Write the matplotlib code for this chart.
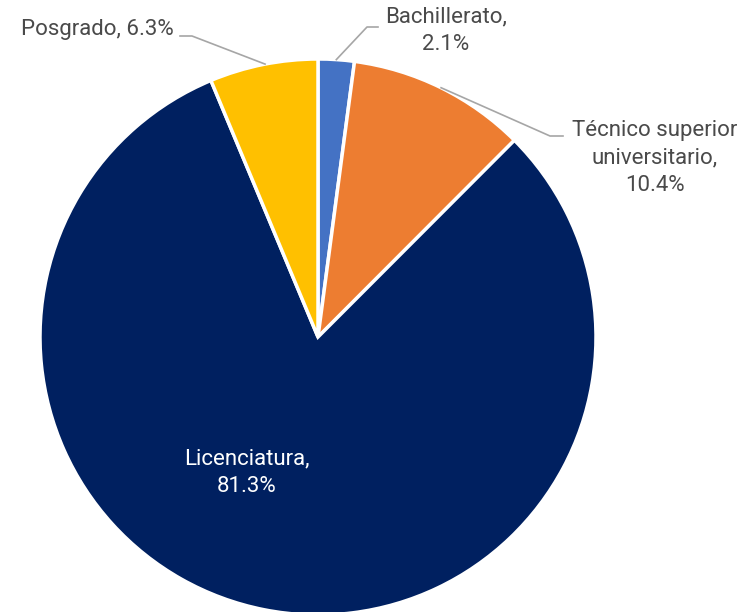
import numpy as np
import matplotlib
matplotlib.use("Agg")
import matplotlib.pyplot as plt

categories = ["Bachillerato", "Técnico superior universitario", "Licenciatura", "Posgrado"]
values = [2.1, 10.4, 81.3, 6.3]
colors = ["#4472C4", "#ED7D31", "#002060", "#FFC000"]
labels = ["Bachillerato,\n2.1%", "Técnico superior\nuniversitario,\n10.4%",
          "Licenciatura,\n81.3%", "Posgrado, 6.3%"]

W, H = 744, 612
fig = plt.figure(figsize=(W / 100, H / 100), dpi=100)
ax = fig.add_axes([0, 0, 1, 1])
plt.rcParams['font.family'] = ['Roboto', 'DejaVu Sans']

cx, cy, R = 318, H - 337, 278
ax.pie(values, colors=colors, startangle=90, counterclock=False,
       center=(cx, cy), radius=R,
       wedgeprops=dict(edgecolor="white", linewidth=2.5))
ax.set_xlim(0, W)
ax.set_ylim(0, H)
ax.set_aspect("equal")
ax.axis("off")

tc = "#4a4a4a"
lc = "#A6A6A6"
fs = 16
fw = "normal"
ls = 1.42

def edge_point(i):
    start = sum(values[:i])
    mid = start + values[i] / 2
    ang = np.deg2rad(90 - mid * 3.6)
    return cx + R * np.cos(ang), cy + R * np.sin(ang)

def py(y):
    return H - y

# Bachillerato
x0, y0 = edge_point(0)
ax.plot([x0, 367, 378], [y0, py(27), py(27)], color=lc, lw=1.2)
ax.text(446, py(31), labels[0], ha="center", va="center", fontsize=fs,
        color=tc, linespacing=ls, fontweight=fw)

# Técnico superior
x0, y0 = edge_point(1)
ax.plot([x0, 550, 563], [y0, py(136), py(136)], color=lc, lw=1.2)
ax.text(655, py(158), labels[1], ha="center", va="center", fontsize=fs,
        color=tc, linespacing=ls, fontweight=fw)

# Licenciatura
ax.text(247, py(473), labels[2], ha="center", va="center", fontsize=fs,
        color="white", linespacing=ls, fontweight=fw)

# Posgrado
x0, y0 = edge_point(3)
ax.plot([x0, 192, 180], [y0, py(36), py(36)], color=lc, lw=1.2)
ax.text(174, py(29), labels[3], ha="right", va="center", fontsize=fs,
        color=tc, fontweight=fw)

fig.savefig("out.png", dpi=100)
